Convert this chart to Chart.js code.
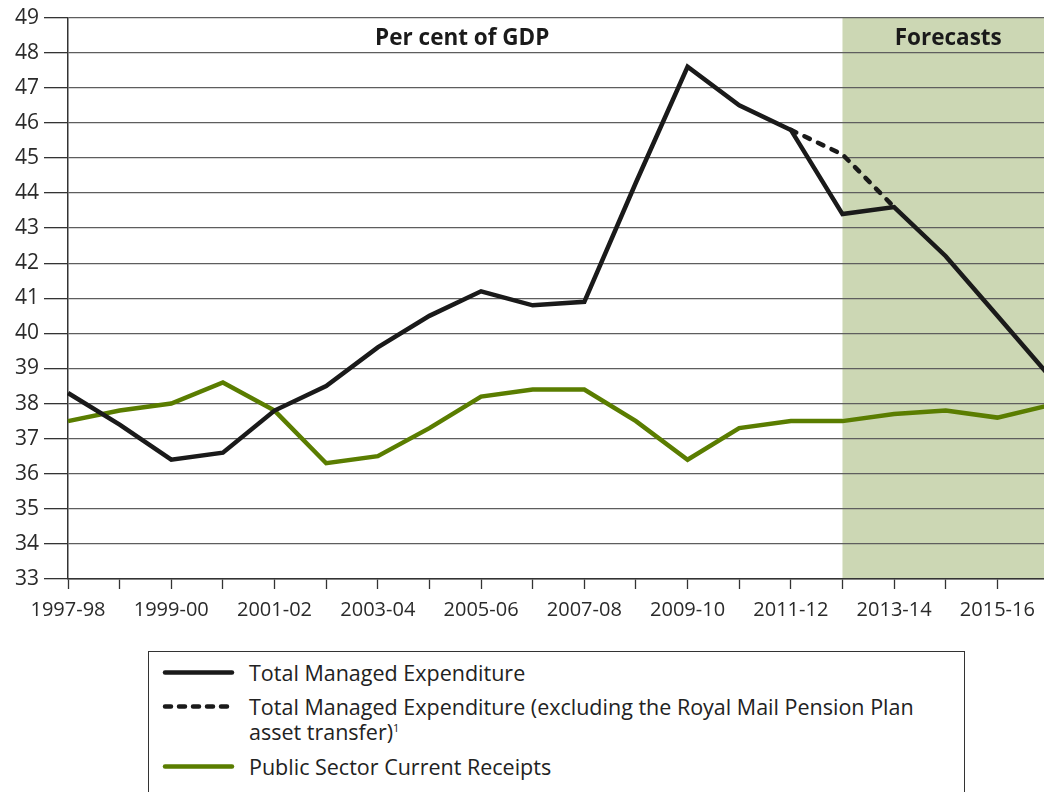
<!DOCTYPE html>
<html>
<head>
<meta charset="utf-8">
<script src="https://cdn.jsdelivr.net/npm/chart.js@4.4.1/dist/chart.umd.min.js"></script>
<style>
  html, body { margin: 0; padding: 0; width: 1044px; height: 792px; overflow: hidden; background: #fff; }
  #wrap { position: absolute; left: 0; top: 0; width: 1050px; height: 640px; }
  #legend { position: absolute; left: 148px; top: 651px; width: 817px; height: 170px; border: 1px solid #333; box-sizing: border-box;
            font-family: "Open Sans", sans-serif; font-size: 21.5px; color: #222; }
  .item { position: absolute; left: 12px; display: flex; align-items: flex-start; }
  .item svg { flex: none; margin-right: 14px; }
  .item span { line-height: 25px; }
</style>
</head>
<body>
<div id="wrap"><canvas id="c" width="1050" height="640"></canvas></div>
<div id="legend"></div>
<script>
const categories = ["1997-98","1998-99","1999-00","2000-01","2001-02","2002-03","2003-04","2004-05","2005-06","2006-07",
                    "2007-08","2008-09","2009-10","2010-11","2011-12","2012-13","2013-14","2014-15","2015-16","2016-17"];
const totalManagedExpenditure = [38.3,37.4,36.4,36.6,37.8,38.5,39.6,40.5,41.2,40.8,40.9,44.3,47.6,46.5,45.8,43.4,43.6,42.2,40.5,38.8];
const tmeExRoyalMail = [null,null,null,null,null,null,null,null,null,null,null,null,null,null,45.8,45.1,43.6,null,null,null];
const publicSectorReceipts = [37.5,37.8,38.0,38.6,37.8,36.3,36.5,37.3,38.2,38.4,38.4,37.5,36.4,37.3,37.5,37.5,37.7,37.8,37.6,37.95];
const yTicks = [33,34,35,36,37,38,39,40,41,42,43,44,45,46,47,48,49];
const forecastStart = "2012-13";
const seriesLabels = ["Total Managed Expenditure",
  "Total Managed Expenditure (excluding the Royal Mail Pension Plan asset transfer)\u00B9",
  "Public Sector Current Receipts"];
const areaLabel = "Per cent of GDP";
const forecastLabel = "Forecasts";

const BLACK = "#1a1a1a", GREEN = "#5a7d00", SHADE = "#ccd7b4";
const FONT = '"Open Sans", sans-serif';

const forecastPlugin = {
  id: "forecast",
  beforeDraw(chart) {
    const {ctx, chartArea, scales} = chart;
    const x0 = scales.x.getPixelForValue(categories.indexOf(forecastStart));
    ctx.save();
    ctx.fillStyle = SHADE;
    ctx.fillRect(x0, chartArea.top, chartArea.right - x0, chartArea.bottom - chartArea.top);
    ctx.restore();
  },
  afterDatasetsDraw(chart) {
    const {ctx, chartArea, scales} = chart;
    const x0 = scales.x.getPixelForValue(categories.indexOf(forecastStart));
    const y = scales.y.getPixelForValue(48.4);
    ctx.save();
    ctx.fillStyle = "#1a1a1a";
    ctx.font = "bold 22.5px " + FONT;
    ctx.textAlign = "center";
    ctx.textBaseline = "middle";
    ctx.fillText(areaLabel, (chartArea.left + x0) / 2 + 7, y);
    ctx.fillText(forecastLabel, (x0 + 1044) / 2 + 5, y);
    ctx.restore();
  }
};

new Chart(document.getElementById("c"), {
  type: "line",
  data: {
    labels: categories,
    datasets: [
      { label: seriesLabels[0], data: totalManagedExpenditure, borderColor: BLACK, borderWidth: 4.5,
        pointRadius: 0, borderJoinStyle: "miter", tension: 0 },
      { label: seriesLabels[1], data: tmeExRoyalMail, borderColor: BLACK, borderWidth: 4.5, borderDash: [6, 9],
        borderCapStyle: "round", pointRadius: 0, tension: 0, spanGaps: false },
      { label: seriesLabels[2], data: publicSectorReceipts, borderColor: GREEN, borderWidth: 4.5,
        pointRadius: 0, borderJoinStyle: "miter", tension: 0 }
    ]
  },
  options: {
    responsive: false,
    animation: false,
    devicePixelRatio: 1,
    layout: { padding: { top: 17, right: 1, left: 0, bottom: 0 } },
    plugins: { legend: { display: false }, tooltip: { enabled: false } },
    scales: {
      x: {
        type: "category",
        offset: false,
        grid: { drawOnChartArea: false, drawTicks: true, tickLength: 10, tickColor: "#333", tickWidth: 1.3 },
        border: { color: "#333", width: 1.5 },
        ticks: {
          autoSkip: false, maxRotation: 0, minRotation: 0, padding: 9,
          color: "#2a2a2a", font: { family: FONT, size: 20 },
          callback: (v, i) => (i % 2 === 0 ? categories[i] : "")
        },
        afterFit: s => { s.height = 61; s.paddingLeft = 0; s.paddingRight = 0; }
      },
      y: {
        min: 33, max: 49,
        afterBuildTicks: s => { s.ticks = yTicks.map(v => ({ value: v })); },
        grid: { color: "#5e5e5e", lineWidth: 1.3, tickLength: 24, tickColor: "#333", tickWidth: 1.3 },
        border: { color: "#333", width: 1.5 },
        ticks: { padding: 5, color: "#2a2a2a", font: { family: FONT, size: 21 } },
        afterFit: s => { s.width = 68; }
      }
    }
  },
  plugins: [forecastPlugin]
});

// Legend
const legend = document.getElementById("legend");
const legendDefs = [
  { label: seriesLabels[0], color: BLACK, dash: null, top: 8 },
  { label: seriesLabels[1], color: BLACK, dash: "6 8", top: 42 },
  { label: seriesLabels[2], color: GREEN, dash: null, top: 102 }
];
legendDefs.forEach(d => {
  const div = document.createElement("div");
  div.className = "item";
  div.style.top = d.top + "px";
  div.style.width = "800px";
  const svgNS = "http://www.w3.org/2000/svg";
  const svg = document.createElementNS(svgNS, "svg");
  svg.setAttribute("width", "74"); svg.setAttribute("height", "25");
  const line = document.createElementNS(svgNS, "line");
  line.setAttribute("x1", "4"); line.setAttribute("x2", "71");
  line.setAttribute("y1", "12.5"); line.setAttribute("y2", "12.5");
  line.setAttribute("stroke", d.color); line.setAttribute("stroke-width", "4.5");
  line.setAttribute("stroke-linecap", "round");
  if (d.dash) line.setAttribute("stroke-dasharray", d.dash);
  svg.appendChild(line);
  const span = document.createElement("span");
  if (d.label.endsWith("\u00B9")) {
    span.innerHTML = d.label.slice(0, -1) + '<sup style="font-size:11px;vertical-align:8px;line-height:0">1</sup>';
  } else {
    span.textContent = d.label;
  }
  div.appendChild(svg); div.appendChild(span);
  legend.appendChild(div);
});
</script>
</body>
</html>
